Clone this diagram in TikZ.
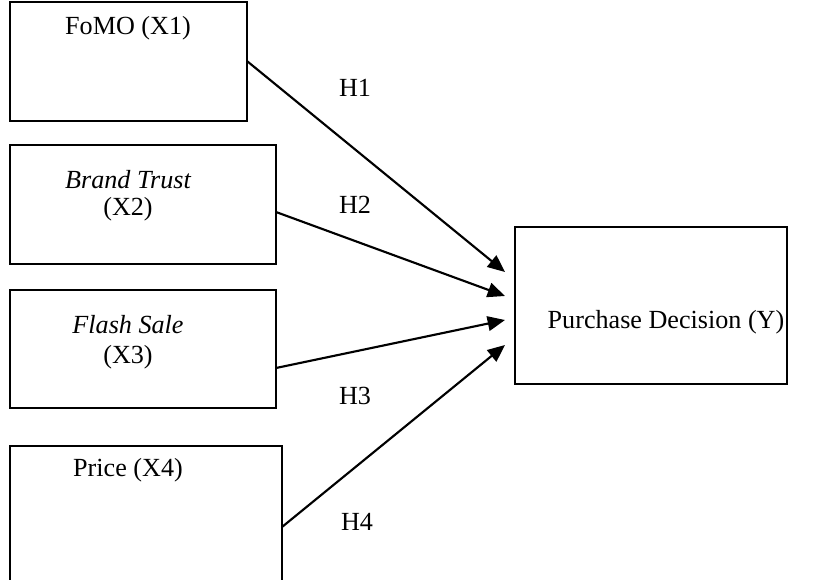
\documentclass[tikz,border=0pt]{standalone}
\usepackage{fontspec}
\setmainfont{Liberation Serif}
\usetikzlibrary{arrows.meta,fit}
\begin{document}
\begin{tikzpicture}[x=0.75pt,y=-0.75pt,
  box/.style={draw=black,line width=0.8pt,inner sep=0pt},
  lbl/.style={inner sep=0pt,font=\fontsize{19.6}{23}\selectfont},
  arr/.style={draw=black,line width=1.6pt,-{Triangle[length=13pt,width=11pt]}}]
\clip (0,0) rectangle (835,579);
\fill[white] (0,0) rectangle (835,579);
% boxes
\node[box,fit={(10,2) (247,121)}] (x1) {};
\node[box,fit={(10,145) (276,264)}] (x2) {};
\node[box,fit={(10,290) (276,408)}] (x3) {};
\node[box,fit={(10,446) (282,600)}] (x4) {};
\node[box,fit={(515,227) (787,384)}] (y) {};
% texts
\node[lbl] (t1) at (128,28) {FoMO (X1)};
\node[lbl] (t2a) at (128,180) {\itshape Brand Trust};
\node[lbl] (t2b) at (128,209) {(X2)};
\node[lbl] (t3a) at (128,325) {\itshape Flash Sale};
\node[lbl] (t3b) at (128,357) {(X3)};
\node[lbl] (t4) at (128,470) {Price (X4)};
\node[lbl] (ty) at (666,322) {Purchase Decision (Y)};
% arrow ends
\coordinate (e1) at (505,272);
\coordinate (e2) at (505,296);
\coordinate (e3) at (505,320);
\coordinate (e4) at (505,345);
\coordinate (s2) at (276,212);
\coordinate (s3) at (276,368);
\coordinate (s4) at (282,527);
\draw[arr] (x1.east) -- (e1);
\draw[arr] (s2) -- (e2);
\draw[arr] (s3) -- (e3);
\draw[arr] (s4) -- (e4);
% hypothesis labels
\node[lbl] (h1) at (355,88) {H1};
\node[lbl] (h2) at (355,205) {H2};
\node[lbl] (h3) at (355,396) {H3};
\node[lbl] (h4) at (357,522) {H4};
\end{tikzpicture}
\end{document}
